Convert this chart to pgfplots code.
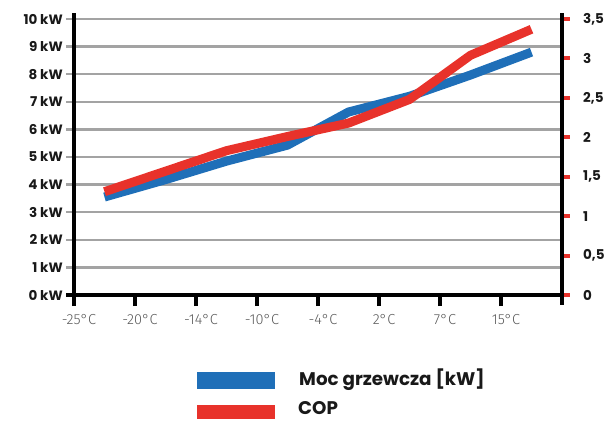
\documentclass[border=0pt]{standalone}
\usepackage{pgfplots}
\pgfplotsset{compat=1.18}
\usepackage{fontspec}
\setmainfont{Poppins}
\newfontfamily\lightf{Fira Sans Light}
\definecolor{cblue}{HTML}{1F6FB8}
\definecolor{cred}{HTML}{E8322B}
\definecolor{ggray}{HTML}{A3A3A3}
\begin{document}
\begin{tikzpicture}[x=1pt,y=1pt]
\useasboundingbox (0,0) rectangle (616,421);
\pgfplotsset{base/.style={at={(74pt,126pt)}, anchor=south west, scale only axis,
  width=488pt, height=276pt, xmin=0, xmax=8, clip=false,
  axis line style={draw=none}, tick align=outside,
  /pgf/number format/assume math mode=true}}
% left axis: kW
\begin{axis}[base, ymin=0, ymax=10, ytick={0,1,...,10},
  yticklabels={0 kW,1 kW,2 kW,3 kW,4 kW,5 kW,6 kW,7 kW,8 kW,9 kW,10 kW},
  xtick=\empty, ymajorgrids, grid style={ggray, line width=2.5pt},
  ytick style={ggray, line width=2.5pt}, major tick length=8pt, ytick pos=left,
  yticklabel style={font=\bfseries\fontsize{13.5}{13.5}\selectfont, color=black!90, anchor=east, inner sep=0pt, xshift=-3pt}]
\addplot[cblue, line width=9pt, line join=round] coordinates {
 (0.5,3.55) (1.5,4.18) (2.5,4.85) (3.5,5.43) (4.5,6.63) (5.5,7.20) (6.5,7.97) (7.5,8.80)};
\end{axis}
% right axis: COP
\begin{axis}[base, ymin=0, ymax=3.5, ytick={0,0.5,...,3.5},
  yticklabels={0,{0,5},1,{1,5},2,{2,5},3,{3,5}},
  ytick pos=right, yticklabel pos=right, xtick=\empty,
  ytick style={cred, line width=4pt}, major tick length=8pt,
  yticklabel style={font=\bfseries\fontsize{13.5}{13.5}\selectfont, color=black!90, anchor=west, inner sep=0pt, xshift=13pt}]
\addplot[cred, line width=9pt, line join=round] coordinates {
 (0.5,1.31) (1.5,1.57) (2.5,1.83) (3.5,2.01) (4.5,2.18) (5.5,2.48) (6.5,3.04) (7.5,3.37)};
\end{axis}
% x axis and frame lines
\begin{axis}[base, ymin=0, ymax=10, ytick=\empty, xtick={0,1,...,7}, xtick pos=bottom,
  xticklabels={-25°C,-20°C,-14°C,-10°C,-4°C,2°C,7°C,15°C},
  xtick style={black, line width=4pt}, major tick length=11pt,
  xticklabel style={font=\lightf\fontsize{14.5}{14.5}\selectfont, color=black!65, xshift=5pt, yshift=-5pt}]
\draw[black, line width=4pt] (axis cs:0,-0.36) -- (axis cs:0,10.22);
\draw[black, line width=4pt] (axis cs:8,-0.36) -- (axis cs:8,10.22);
\draw[black, line width=4pt] (axis cs:-0.13,0) -- (axis cs:8.03,0);
\end{axis}
% legend
\fill[cblue] (197,32) rectangle (275,49);
\fill[cred] (197,2) rectangle (275,16);
\node[anchor=west, inner sep=0pt, font=\bfseries\fontsize{18.3}{18.3}\selectfont, color=black!90] at (299,41) {Moc grzewcza [kW]};
\node[anchor=west, inner sep=0pt, font=\bfseries\fontsize{18.3}{18.3}\selectfont, color=black!90] at (298,13) {COP};
\end{tikzpicture}
\end{document}
